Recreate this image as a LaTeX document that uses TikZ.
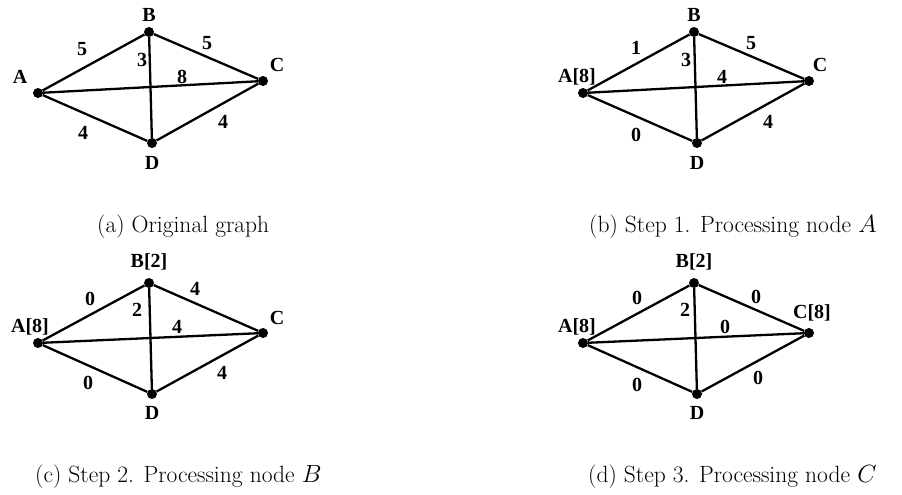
\documentclass[tikz,border=0pt]{standalone}
\usepackage{fontspec}
\newfontfamily\labfont{Liberation Serif}
\begin{document}
\begin{tikzpicture}[x=1pt,y=-1pt,
  dot/.style={circle,fill=black,inner sep=0pt,minimum size=10pt},
  edge/.style={line width=2.3pt},
  lbl/.style={font=\labfont\bfseries\fontsize{20}{20}\selectfont, inner sep=0pt},
  captext/.style={font=\fontsize{23.5}{23.5}\selectfont, inner sep=0pt, anchor=base west}]
\useasboundingbox (0,0) rectangle (902,495);

% (a)
\begin{scope}
\node[dot] (aA) at (38,93) {};
\node[dot] (aB) at (149,32) {};
\node[dot] (aC) at (263,81) {};
\node[dot] (aD) at (152,143) {};
\draw[edge] (aA) -- (aB) -- (aC) -- (aD) -- (aA) -- (aC);
\draw[edge] (aB) -- (aD);
\node[lbl] (aLA) at (20,77) {A};
\node[lbl] (aLB) at (149,15) {B};
\node[lbl] (aLC) at (277,65) {C};
\node[lbl] (aLD) at (152,163) {D};
\node[lbl] (aw1) at (82,49) {5};
\node[lbl] (aw2) at (142,60) {3};
\node[lbl] (aw3) at (207,43) {5};
\node[lbl] (aw4) at (182,77) {8};
\node[lbl] (aw5) at (83,133) {4};
\node[lbl] (aw6) at (223,122) {4};
\node[captext] (acap) at (97,232) {(a) Original graph};
\end{scope}

% (b)
\begin{scope}[shift={(545,0)}]
\node[dot] (bA) at (38,93) {};
\node[dot] (bB) at (149,32) {};
\node[dot] (bC) at (264,81) {};
\node[dot] (bD) at (152,143) {};
\draw[edge] (bA) -- (bB) -- (bC) -- (bD) -- (bA) -- (bC);
\draw[edge] (bB) -- (bD);
\node[lbl] (bLA) at (32,77) {A[8]};
\node[lbl] (bLB) at (149,15) {B};
\node[lbl] (bLC) at (275,65) {C};
\node[lbl] (bLD) at (152,163) {D};
\node[lbl] (bw1) at (91,48) {1};
\node[lbl] (bw2) at (141,60) {3};
\node[lbl] (bw3) at (206,43) {5};
\node[lbl] (bw4) at (177,77) {4};
\node[lbl] (bw5) at (91,135) {0};
\node[lbl] (bw6) at (223,122) {4};
\node[captext] (bcap) at (44,232) {(b) Step 1. Processing node $A$};
\end{scope}

% (c)
\begin{scope}[shift={(0,250)}]
\node[dot] (cA) at (38,93) {};
\node[dot] (cB) at (149,33) {};
\node[dot] (cC) at (263,83) {};
\node[dot] (cD) at (152,144) {};
\draw[edge] (cA) -- (cB) -- (cC) -- (cD) -- (cA) -- (cC);
\draw[edge] (cB) -- (cD);
\node[lbl] (cLA) at (30,77) {A[8]};
\node[lbl] (cLB) at (149,12) {B[2]};
\node[lbl] (cLC) at (277,68) {C};
\node[lbl] (cLD) at (152,163) {D};
\node[lbl] (cw1) at (90,49) {0};
\node[lbl] (cw2) at (137,60) {2};
\node[lbl] (cw3) at (195,39) {4};
\node[lbl] (cw4) at (177,77) {4};
\node[lbl] (cw5) at (88,133) {0};
\node[lbl] (cw6) at (222,123) {4};
\node[captext] (ccap) at (35,232) {(c) Step 2. Processing node $B$};
\end{scope}

% (d)
\begin{scope}[shift={(545,250)}]
\node[dot] (dA) at (38,93) {};
\node[dot] (dB) at (149,33) {};
\node[dot] (dC) at (264,83) {};
\node[dot] (dD) at (152,144) {};
\draw[edge] (dA) -- (dB) -- (dC) -- (dD) -- (dA) -- (dC);
\draw[edge] (dB) -- (dD);
\node[lbl] (dLA) at (32,77) {A[8]};
\node[lbl] (dLB) at (149,12) {B[2]};
\node[lbl] (dLC) at (267,63) {C[8]};
\node[lbl] (dLD) at (152,163) {D};
\node[lbl] (dw1) at (92,48) {0};
\node[lbl] (dw2) at (140,60) {2};
\node[lbl] (dw3) at (211,47) {0};
\node[lbl] (dw4) at (180,77) {0};
\node[lbl] (dw5) at (92,135) {0};
\node[lbl] (dw6) at (213,128) {0};
\node[captext] (dcap) at (43,232) {(d) Step 3. Processing node $C$};
\end{scope}
\end{tikzpicture}
\end{document}
